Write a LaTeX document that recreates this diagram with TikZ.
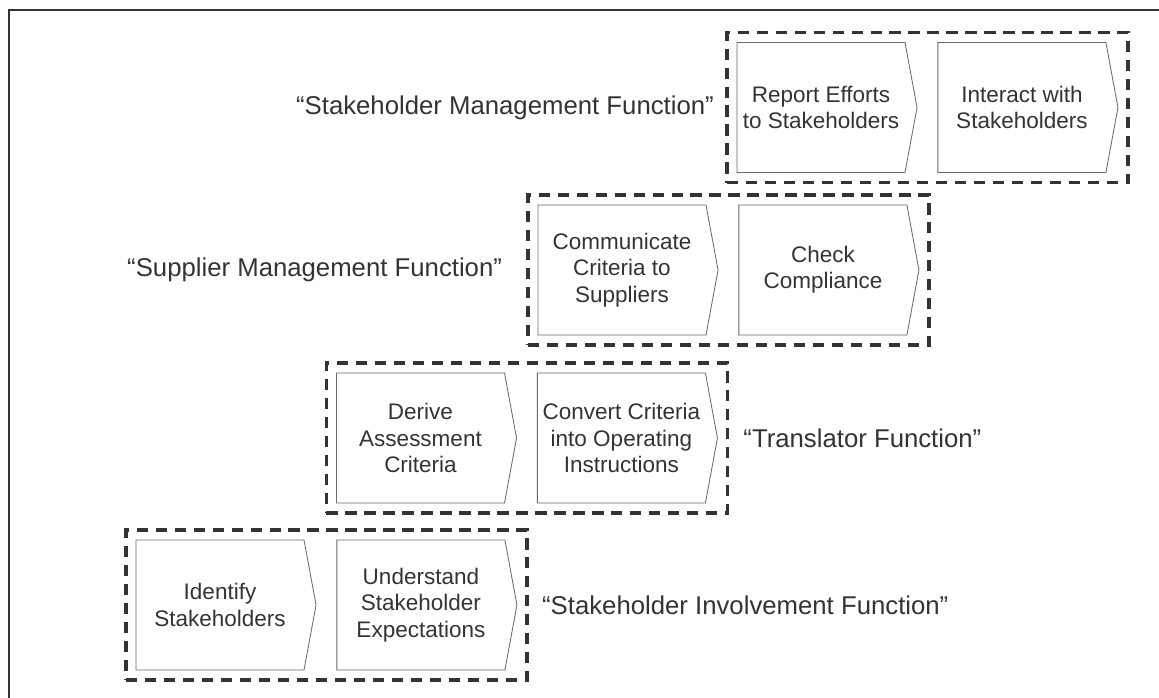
\documentclass[tikz,border=0pt]{standalone}
\usepackage{fontspec}
\setmainfont{Liberation Sans}
\usetikzlibrary{positioning,fit,shapes.symbols}

\definecolor{inkgray}{HTML}{333333}
\definecolor{linegray}{HTML}{6A6A6A}

\begin{document}
\begin{tikzpicture}[x=0.025cm,y=-0.025cm,node distance=0.5cm,
  stepbox/.style={signal,signal to=east,signal from=nowhere,signal pointer angle=159,
    draw=linegray,line width=0.6pt,minimum width=4.5cm,minimum height=3.25cm,
    align=center,inner sep=0pt,text=inkgray,font=\fontsize{16}{18.7}\selectfont},
  group/.style={draw=inkgray,line width=2.4pt,dash pattern=on 8pt off 5.5pt,inner sep=0.24cm},
  funclabel/.style={inner sep=0pt,text=inkgray,font=\fontsize{18.3}{22}\selectfont}]

\useasboundingbox (0,0) rectangle (1159,698);

% frame, top and left only
\coordinate (corner) at (9,10);
\draw[draw=inkgray,line width=1.5pt] (1159,10) -- (corner) -- (9,698);

% stakeholder management
\node[stepbox] (report) at (821,107.5) {Report Efforts\\to Stakeholders};
\node[stepbox] (interact) [right=of report] {Interact with\\Stakeholders};

% supplier management
\node[stepbox] (communicate) at (622,270) {Communicate\\Criteria to\\Suppliers};
\node[stepbox] (check) [right=of communicate] {Check\\Compliance};

% translator
\node[stepbox] (derive) at (420.5,438) {Derive\\Assessment\\Criteria};
\node[stepbox] (convert) [right=of derive] {Convert Criteria\\into Operating\\Instructions};

% stakeholder involvement
\node[stepbox] (identify) at (220,605) {Identify\\Stakeholders};
\node[stepbox] (understand) [right=of identify] {Understand\\Stakeholder\\Expectations};

\node[group,fit=(report)(interact)] (G1) {};
\node[group,fit=(communicate)(check)] (G2) {};
\node[group,fit=(derive)(convert)] (G3) {};
\node[group,fit=(identify)(understand)] (G4) {};

\node[funclabel] (L1) [left=0.28cm of G1] {“Stakeholder Management Function”};
\node[funclabel] (L2) [left=0.6cm of G2] {“Supplier Management Function”};
\node[funclabel] (L3) [right=0.35cm of G3] {“Translator Function”};
\node[funclabel] (L4) [right=0.33cm of G4] {“Stakeholder Involvement Function”};

\end{tikzpicture}
\end{document}
